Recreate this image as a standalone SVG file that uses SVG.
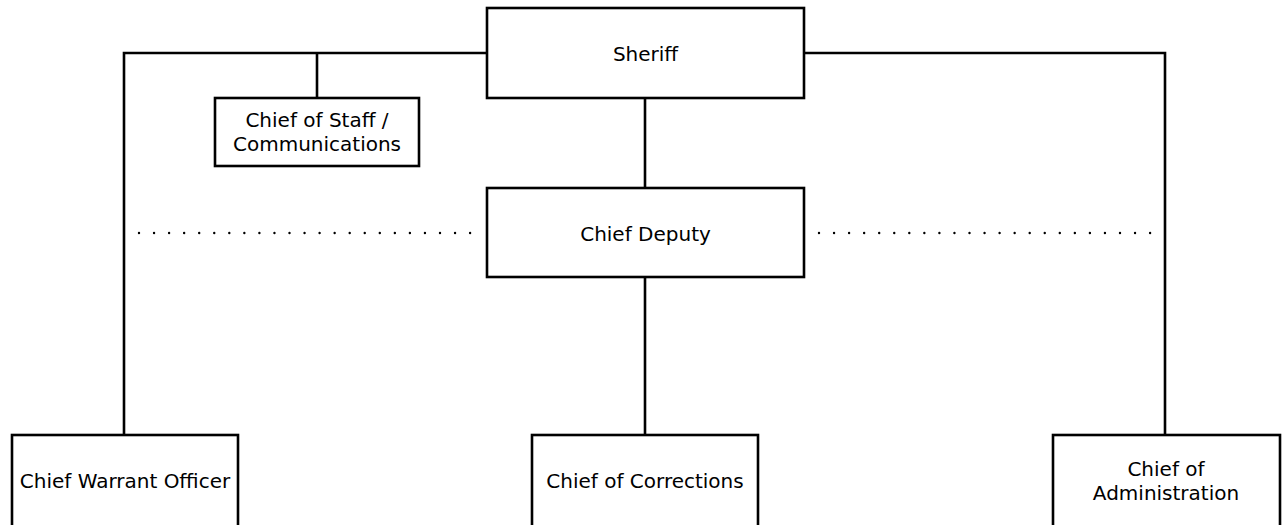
<svg xmlns="http://www.w3.org/2000/svg" width="1282" height="525" viewBox="0 0 1282 525">
<style>
.box{fill:#fff;stroke:#000;stroke-width:2.6}
.ln{fill:none;stroke:#000;stroke-width:2.6}
.dot{fill:none;stroke:#000;stroke-width:2.4;stroke-linecap:round;stroke-dasharray:0 15.05}
text{font-family:"DejaVu Sans","Liberation Sans",sans-serif;font-size:20px;fill:#000;text-anchor:middle}
</style>
<rect width="1282" height="525" fill="#fff"/>
<g id="connectors">
<polyline class="ln" points="124,435 124,53 487,53"/>
<line class="ln" x1="317" y1="53" x2="317" y2="98"/>
<polyline class="ln" points="804,53 1165,53 1165,435"/>
<line class="ln" x1="645" y1="98" x2="645" y2="188"/>
<line class="ln" x1="645" y1="277" x2="645" y2="435"/>
<line class="dot" x1="139" y1="233" x2="472" y2="233"/>
<line class="dot" x1="819" y1="233" x2="1153" y2="233"/>
</g>
<g id="sheriff"><rect class="box" x="487" y="8" width="317" height="90"/><text x="645.5" y="61">Sheriff</text></g>
<g id="chief-of-staff"><rect class="box" x="215" y="98" width="204" height="68"/><text x="317" y="127">Chief of Staff /</text><text x="317" y="151">Communications</text></g>
<g id="chief-deputy"><rect class="box" x="487" y="188" width="317" height="89"/><text x="645.5" y="241">Chief Deputy</text></g>
<g id="chief-warrant-officer"><rect class="box" x="12" y="435" width="226" height="95"/><text x="125" y="488">Chief Warrant Officer</text></g>
<g id="chief-of-corrections"><rect class="box" x="532" y="435" width="226" height="95"/><text x="645" y="488">Chief of Corrections</text></g>
<g id="chief-of-administration"><rect class="box" x="1053" y="435" width="227" height="95"/><text x="1166" y="476">Chief of</text><text x="1166" y="500">Administration</text></g>
</svg>
